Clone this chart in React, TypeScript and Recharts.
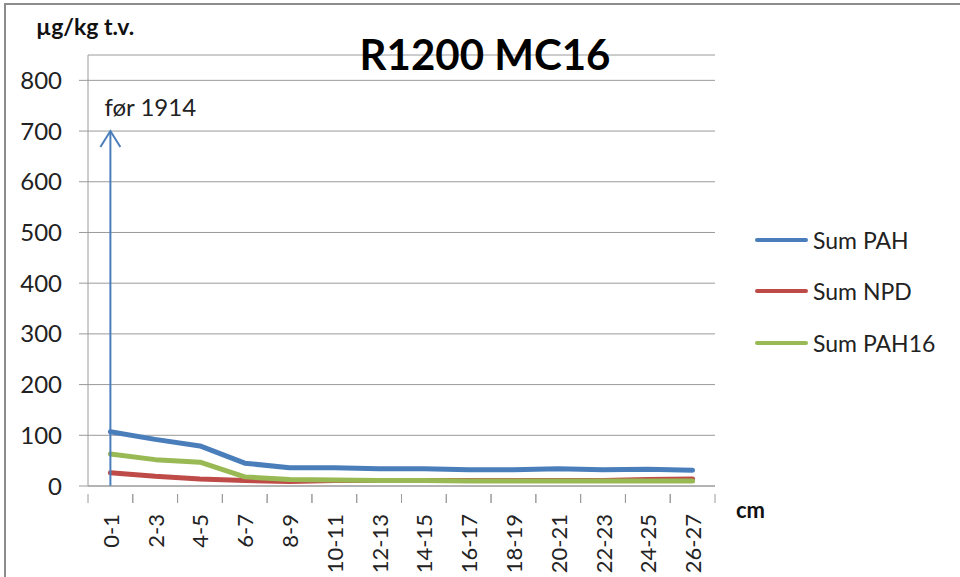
import { LineChart, Line, XAxis, YAxis, CartesianGrid, Legend, ReferenceLine } from "recharts";

const depths = ["0-1", "2-3", "4-5", "6-7", "8-9", "10-11", "12-13", "14-15", "16-17", "18-19", "20-21", "22-23", "24-25", "26-27"];
const sumPah = [107, 92, 79, 45, 36, 36, 34, 34, 32, 32, 34, 32, 33, 31];
const sumNpd = [26, 19, 14, 11, 9, 11, 11, 11, 11, 11, 11, 11, 13, 14];
const sumPah16 = [63, 52, 47, 18, 13, 12, 11, 11, 10, 10, 10, 10, 10, 10];
const seriesNames = ["Sum PAH", "Sum NPD", "Sum PAH16"];
const yTicks = [0, 100, 200, 300, 400, 500, 600, 700, 800];

const data = depths.map((d, i) => ({
  depth: d,
  pah: sumPah[i],
  npd: sumNpd[i],
  pah16: sumPah16[i],
}));

const FONT = "Lato, 'Open Sans', sans-serif";
const GRID = "#9a9a9a";
const PLOT_LEFT = 88;
const PLOT_RIGHT = 715;
const BAND = (PLOT_RIGHT - PLOT_LEFT) / depths.length;

const XTick = (props: any) => {
  const { x, y, payload } = props;
  const half = BAND / 2;
  return (
    <g>
      <line x1={x - half} y1={y} x2={x - half} y2={y + 9} stroke={GRID} />
      <line x1={x + half} y1={y} x2={x + half} y2={y + 9} stroke={GRID} />
      <text
        x={x}
        y={y + 20}
        transform={`rotate(-90, ${x}, ${y + 20})`}
        textAnchor="end"
        dominantBaseline="central"
        fontSize={22}
        fontFamily={FONT}
        fill="#222"
      >
        {payload.value}
      </text>
    </g>
  );
};

const Arrow = (p: any) => {
  const x = p.x1;
  const top = Math.min(p.y1, p.y2);
  const bottom = Math.max(p.y1, p.y2);
  return (
    <g>
      <line x1={x} y1={bottom} x2={x} y2={top} stroke="#4a7ebb" strokeWidth={2} />
      <polyline
        points={`${x - 10},${top + 16} ${x},${top} ${x + 10},${top + 16}`}
        fill="none"
        stroke="#4a7ebb"
        strokeWidth={2}
      />
      <text x={x - 6} y={top - 15} fontSize={24} fontFamily={FONT} fill="#222">
        før 1914
      </text>
    </g>
  );
};

const LegendBox = (props: any) => {
  const payload = [...(props.payload || [])].sort(
    (a: any, b: any) => seriesNames.indexOf(a.value) - seriesNames.indexOf(b.value)
  );
  return (
    <div style={{ fontFamily: FONT }}>
      {payload.map((e: any) => (
        <div key={e.value} style={{ display: "flex", alignItems: "center", height: 51.5 }}>
          <span style={{ display: "inline-block", width: 53, height: 4, borderRadius: 2, background: e.color }} />
          <span style={{ marginLeft: 5, fontSize: 23, color: "#222" }}>{e.value}</span>
        </div>
      ))}
    </div>
  );
};

export default function App() {
  return (
    <div style={{ position: "absolute", left: 0, top: 0, width: 960, height: 577, background: "#fff", overflow: "hidden" }}>
      <div
        style={{
          position: "absolute",
          left: 4,
          top: 3,
          width: 1000,
          height: 600,
          borderTop: "2px solid #8c8c8c",
          borderLeft: "2px solid #8c8c8c",
        }}
      />
      <LineChart
        width={960}
        height={577}
        data={data}
        margin={{ top: 55, right: 960 - PLOT_RIGHT, left: 0, bottom: 0 }}
        style={{ position: "absolute", left: 0, top: 0 }}
      >
        <CartesianGrid vertical={false} stroke={GRID} strokeWidth={1} />
        <XAxis
          dataKey="depth"
          scale="band"
          interval={0}
          height={91}
          axisLine={{ stroke: GRID }}
          tickLine={false}
          tick={<XTick />}
        />
        <YAxis
          width={PLOT_LEFT}
          domain={[0, 850]}
          ticks={yTicks}
          interval={0}
          axisLine={{ stroke: GRID }}
          tickLine={{ stroke: GRID }}
          tickSize={9}
          tickMargin={17}
          tick={{ fontSize: 24, fontFamily: FONT, fill: "#222" }}
        />
        <Legend
          layout="vertical"
          verticalAlign="middle"
          align="center"
          wrapperStyle={{ left: 755, top: 214, width: 200 }}
          content={<LegendBox />}
        />
        <Line name="Sum PAH" dataKey="pah" stroke="#4a7ebb" strokeWidth={5} dot={false} strokeLinejoin="round" strokeLinecap="round" isAnimationActive={false} />
        <Line name="Sum NPD" dataKey="npd" stroke="#be4b48" strokeWidth={5} dot={false} strokeLinejoin="round" strokeLinecap="round" isAnimationActive={false} />
        <Line name="Sum PAH16" dataKey="pah16" stroke="#98b954" strokeWidth={5} dot={false} strokeLinejoin="round" strokeLinecap="round" isAnimationActive={false} />
        <ReferenceLine
          segment={[
            { x: "0-1", y: 0 },
            { x: "0-1", y: 700 },
          ]}
          shape={<Arrow />}
          ifOverflow="visible"
        />
      </LineChart>
      <div style={{ position: "absolute", left: 36, top: 12, fontFamily: FONT, fontWeight: 700, fontSize: 23, color: "#111" }}>
        µg/kg t.v.
      </div>
      <div style={{ position: "absolute", left: 285, width: 400, top: 30, textAlign: "center", fontFamily: FONT, fontWeight: 700, fontSize: 42, lineHeight: "48px", color: "#000" }}>
        R1200 MC16
      </div>
      <div style={{ position: "absolute", left: 736, top: 496, fontFamily: FONT, fontWeight: 700, fontSize: 22, color: "#111" }}>
        cm
      </div>
    </div>
  );
}
